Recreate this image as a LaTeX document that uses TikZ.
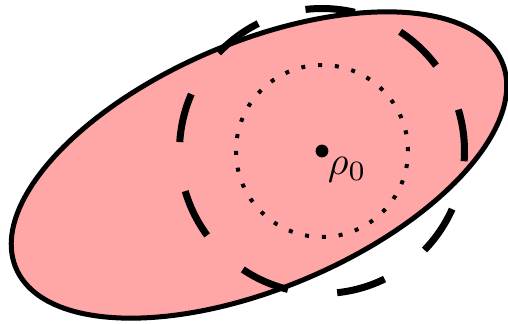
\documentclass[tikz,border=0pt]{standalone}
\usepackage{amsmath}
\usepackage{tikz}
\usetikzlibrary{shapes}
\tikzset{
  pink_region/.style = {fill=red!35, draw=black, line width=1.25pt},% zone rose
  dashed_ring/.style = {draw=black, line width=1.75pt,
    dash pattern=on 12.4pt off 12.4pt, dash phase=1.9pt},% cercle en tirets
  dotted_ring/.style = {draw=black, line width=1pt,
    dash pattern=on 1pt off 3.22pt},% cercle en pointilles
  centre_dot/.style = {circle, fill=black, inner sep=0pt,
    minimum size=3.2pt}% point central
}
\begin{document}
\begin{tikzpicture}[x=0.25pt, y=0.25pt]
      \useasboundingbox (0,0) rectangle (508,324);
      \draw [pink_region, rotate around={23:(259,159)}]
          (259,159) ellipse [x radius=264, y radius=123];
      \draw [dashed_ring] (322,173) circle [radius=142.5];
      \draw [dotted_ring] (322,173) circle [radius=86];
      \node [centre_dot] (rho0) at (322,173) {};
      \node [anchor=north west, inner sep=0pt] (rho0_label)
          at (rho0.south east) {$\rho_0$};
    \end{tikzpicture}
\end{document}
